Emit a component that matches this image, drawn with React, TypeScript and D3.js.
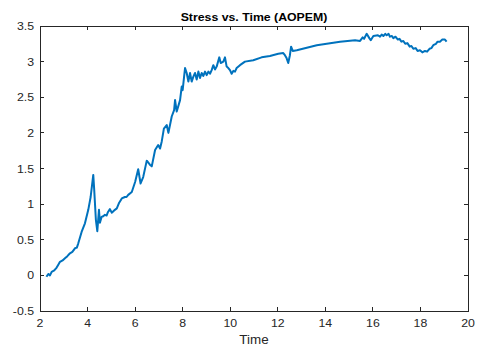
import React from "react";
import * as d3 from "d3";

// Elapsed time samples and the measured stress at each sample
const time = [
  2.27, 2.35, 2.42, 2.49, 2.6, 2.7, 2.77, 2.84, 2.95, 3.05, 3.15, 3.26, 3.36, 3.47, 3.55, 3.61,
  3.75, 3.89, 4.03, 4.13, 4.24, 4.28,
  4.35, 4.41, 4.48, 4.52, 4.59, 4.66, 4.73, 4.8, 4.86, 4.94, 5.02, 5.15, 5.23, 5.33, 5.44, 5.57,
  5.64, 5.71, 5.86, 6.0,
  6.13, 6.23, 6.34, 6.49, 6.63, 6.7, 6.84, 6.97, 7.05, 7.12, 7.21, 7.33, 7.4, 7.54, 7.64, 7.68,
  7.75, 7.89, 7.96, 8.0, 8.06, 8.1, 8.17, 8.24, 8.31, 8.38, 8.45, 8.52, 8.59, 8.66, 8.73, 8.8,
  8.87, 8.94, 9.01, 9.08, 9.15, 9.22, 9.29, 9.36, 9.43, 9.54, 9.6, 9.71, 9.78, 9.85, 9.92,
  9.99, 10.06, 10.13, 10.2, 10.27,
  10.41, 10.62, 10.97, 11.32, 11.67, 12.02, 12.23, 12.3, 12.37, 12.44, 12.51, 12.56, 12.63,
  12.8, 13.64, 14.62, 15.25, 15.46, 15.57, 15.63, 15.74, 15.85, 15.91, 16.02, 16.21, 16.3,
  16.37, 16.44, 16.52, 16.58, 16.66, 16.72, 16.8, 16.86, 16.95, 17.05, 17.12, 17.2, 17.28,
  17.36, 17.45, 17.55, 17.62, 17.7, 17.8, 17.88, 17.98, 18.08, 18.19, 18.28, 18.38, 18.46,
  18.54, 18.65, 18.72, 18.82, 18.92, 19.03, 19.1,
];
const stress = [
  -0.02, 0.02, 0.0, 0.05, 0.07, 0.11, 0.15, 0.19, 0.21, 0.24, 0.27, 0.31, 0.33, 0.38, 0.39, 0.45,
  0.61, 0.73, 0.92, 1.1, 1.41, 1.2,
  0.78, 0.62, 0.92, 0.74, 0.82, 0.83, 0.85, 0.84, 0.89, 0.93, 0.88, 0.92, 0.94, 1.02, 1.08, 1.1,
  1.1, 1.13, 1.17, 1.31,
  1.49, 1.29, 1.38, 1.61, 1.55, 1.53, 1.76, 1.83, 1.78, 1.88, 2.06, 2.11, 2.0, 2.23, 2.32, 2.46,
  2.3, 2.46, 2.65, 2.6, 2.79, 2.91, 2.84, 2.72, 2.84, 2.72, 2.79, 2.84, 2.75, 2.86, 2.77, 2.84,
  2.8, 2.86, 2.81, 2.86, 2.83, 2.88, 2.95, 2.89, 2.93, 3.06, 2.98, 3.0, 3.06, 2.93, 2.91,
  2.88, 2.83, 2.87, 2.86, 2.91,
  2.95, 3.0, 3.02, 3.06, 3.08, 3.11, 3.12, 3.09, 3.05, 2.98, 3.09, 3.21, 3.15,
  3.16, 3.23, 3.28, 3.3, 3.29, 3.34, 3.32, 3.39, 3.33, 3.3, 3.36, 3.37, 3.35,
  3.38, 3.36, 3.39, 3.37, 3.39, 3.35, 3.36, 3.33, 3.35, 3.31, 3.32, 3.28, 3.29,
  3.25, 3.26, 3.21, 3.22, 3.18, 3.19, 3.15, 3.16, 3.13, 3.15, 3.14, 3.18, 3.19,
  3.23, 3.25, 3.28, 3.28, 3.31, 3.31, 3.28,
];

const xTicks = [2, 4, 6, 8, 10, 12, 14, 16, 18, 20];
const yTicks = [-0.5, 0, 0.5, 1, 1.5, 2, 2.5, 3, 3.5];

const titleText = "Stress vs. Time (AOPEM)";
const xLabelText = "Time";

const W = 479;
const H = 347;
const left = 40;
const right = 468;
const top = 26;
const bottom = 311;
const tickLen = 4;
const axisColor = "#262626";
const lineColor = "#0072BD";
const font = "'Liberation Sans', Arial, Helvetica, sans-serif";
const stretch = 1.12;

export default function App() {
  const x = d3.scaleLinear().domain([2, 20]).range([left, right]);
  const y = d3.scaleLinear().domain([-0.5, 3.5]).range([bottom, top]);

  const pts: [number, number][] = time.map((t, i) => [t, stress[i]]);
  const path = d3
    .line<[number, number]>()
    .x((d) => x(d[0]))
    .y((d) => y(d[1]))(pts) as string;

  const label = (
    px: number,
    py: number,
    text: string,
    anchor: "start" | "middle" | "end",
    size: number,
    bold = false,
    key?: string | number
  ) => (
    <text
      key={key}
      transform={`translate(${px},${py}) scale(${stretch},1)`}
      textAnchor={anchor}
      fontFamily={font}
      fontSize={size}
      fontWeight={bold ? "bold" : "normal"}
      fill={bold ? "#000" : axisColor}
    >
      {text}
    </text>
  );

  return (
    <svg
      width={W}
      height={H}
      style={{ position: "absolute", left: 0, top: 0, background: "#fff" }}
    >
      <rect x={0} y={0} width={W} height={H} fill="#fff" />
      <path d={path} fill="none" stroke={lineColor} strokeWidth={2} strokeLinejoin="round" />

      {/* box */}
      <rect
        x={left}
        y={top}
        width={right - left}
        height={bottom - top}
        fill="none"
        stroke={axisColor}
        strokeWidth={1}
        shapeRendering="crispEdges"
      />

      {/* x ticks, bottom and top, drawn inward */}
      {xTicks.map((t) => (
        <g key={"x" + t} shapeRendering="crispEdges">
          <line x1={x(t)} x2={x(t)} y1={bottom} y2={bottom - tickLen} stroke={axisColor} />
          <line x1={x(t)} x2={x(t)} y1={top} y2={top + tickLen} stroke={axisColor} />
        </g>
      ))}
      {xTicks.map((t) => label(x(t), bottom + 16, String(t), "middle", 11, false, "xl" + t))}

      {/* y ticks, left and right, drawn inward */}
      {yTicks.map((t) => (
        <g key={"y" + t} shapeRendering="crispEdges">
          <line x1={left} x2={left + tickLen} y1={y(t)} y2={y(t)} stroke={axisColor} />
          <line x1={right} x2={right - tickLen} y1={y(t)} y2={y(t)} stroke={axisColor} />
        </g>
      ))}
      {yTicks.map((t) => label(left - 6, y(t) + 4, String(t), "end", 11, false, "yl" + t))}

      {label((left + right) / 2, 20.5, titleText, "middle", 11, true)}
      {label((left + right) / 2, 344, xLabelText, "middle", 12)}
    </svg>
  );
}
